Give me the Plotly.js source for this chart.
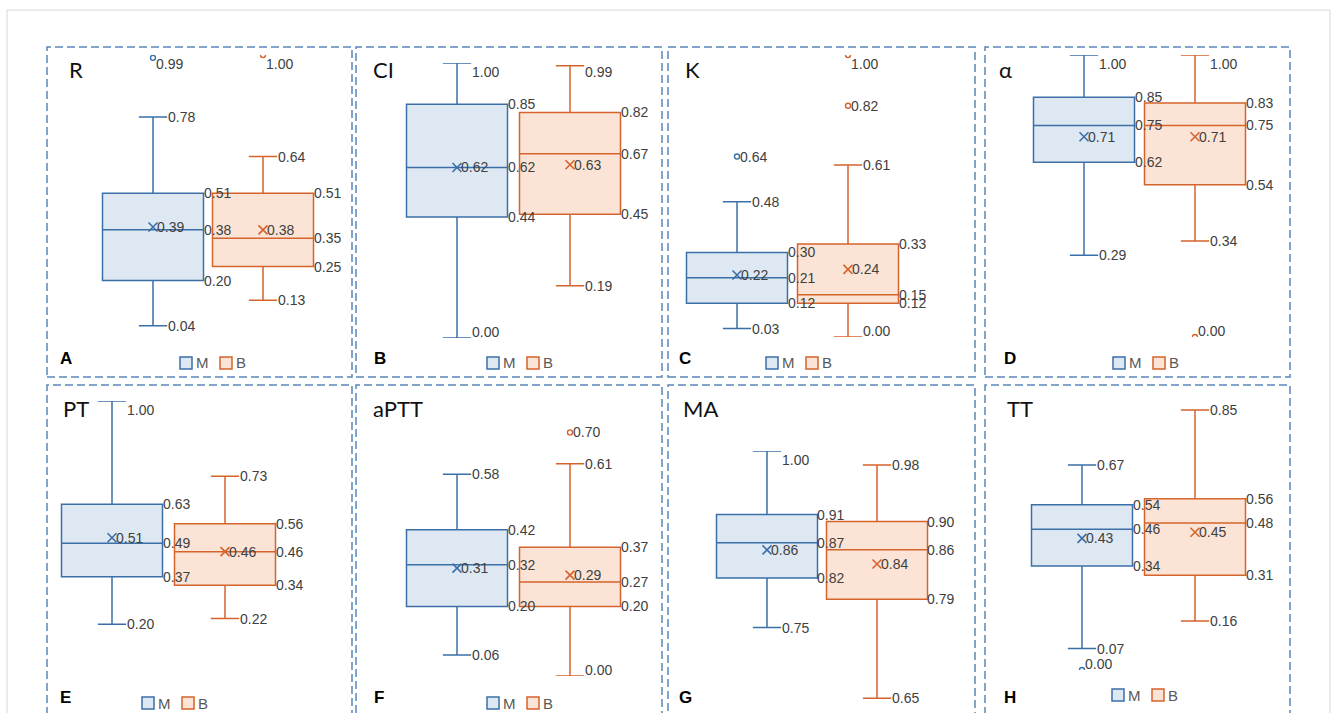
<!DOCTYPE html>
<html>
<head>
<meta charset="utf-8">
<script src="https://cdn.plot.ly/plotly-3.0.1.min.js"></script>
<style>
  html, body { margin: 0; padding: 0; background: #ffffff; }
  #chart { width: 1331px; height: 713px; }
</style>
</head>
<body>
<div id="chart"></div>
<script>
// Normalised coagulation / TEG parameters compared between groups M and B.
const groups = ['M', 'B'];
const panelLetters = ['A', 'B', 'C', 'D', 'E', 'F', 'G', 'H'];
const panelNames = ['R', 'CI', 'K', 'α', 'PT', 'aPTT', 'MA', 'TT'];

// Group M summaries, one entry per panel
const lowerM   = [0.04, 0.00, 0.03, 0.29, 0.20, 0.06, 0.75, 0.07];
const q1M      = [0.20, 0.44, 0.12, 0.62, 0.37, 0.20, 0.82, 0.34];
const medianM  = [0.38, 0.62, 0.21, 0.75, 0.49, 0.32, 0.87, 0.46];
const q3M      = [0.51, 0.85, 0.30, 0.85, 0.63, 0.42, 0.91, 0.54];
const upperM   = [0.78, 1.00, 0.48, 1.00, 1.00, 0.58, 1.00, 0.67];
const meanM    = [0.39, 0.62, 0.22, 0.71, 0.51, 0.31, 0.86, 0.43];
const outliersM = [[0.99], [], [0.64], [], [], [], [], [0.00]];

// Group B summaries, one entry per panel
const lowerB   = [0.13, 0.19, 0.00, 0.34, 0.22, 0.00, 0.65, 0.16];
const q1B      = [0.25, 0.45, 0.12, 0.54, 0.34, 0.20, 0.79, 0.31];
const medianB  = [0.35, 0.67, 0.15, 0.75, 0.46, 0.27, 0.86, 0.48];
const q3B      = [0.51, 0.82, 0.33, 0.83, 0.56, 0.37, 0.90, 0.56];
const upperB   = [0.64, 0.99, 0.61, 1.00, 0.73, 0.61, 0.98, 0.85];
const meanB    = [0.38, 0.63, 0.24, 0.71, 0.46, 0.29, 0.84, 0.45];
const outliersB = [[1.00], [], [0.82, 1.00], [0.00], [], [0.70], [], []];

const stats = {
  M: { lower: lowerM, q1: q1M, median: medianM, q3: q3M, upper: upperM, mean: meanM, outliers: outliersM },
  B: { lower: lowerB, q1: q1B, median: medianB, q3: q3B, upper: upperB, mean: meanB, outliers: outliersB }
};

// ---- page geometry (pixels) ----
const W = 1331, H = 713;
const fx = px => px / W;
const fy = py => 1 - py / H;

// frame: dashed panel border; area: top/bottom of plotting area; cM: centre of first box;
// step: distance between box centres; legend: left edge of first swatch
const panels = [
  { frame: [47, 47, 352, 377],   area: [55, 337],     range: [0, 1],     cM: 153,  step: 110, title: [67, 70],   letter: [58, 358],   legend: [180, 363] },
  { frame: [356, 47, 662, 377],  area: [63, 338],     range: [0, 1],     cM: 457,  step: 113, title: [371, 70],  letter: [372, 358],  legend: [487, 363] },
  { frame: [668, 47, 975, 377],  area: [55, 337],     range: [0, 1],     cM: 737,  step: 111, title: [683, 70],  letter: [677, 358],  legend: [766, 363] },
  { frame: [985, 47, 1290, 377], area: [55, 337],     range: [0, 1],     cM: 1084, step: 111, title: [997, 70],  letter: [1002, 358], legend: [1113, 363] },
  { frame: [47, 385, 352, 725],  area: [401, 680],    range: [0, 1],     cM: 112,  step: 113, title: [61, 408],  letter: [58, 697],   legend: [142, 703] },
  { frame: [356, 385, 662, 725], area: [397.6, 676],  range: [0, 0.8],   cM: 457,  step: 113, title: [371, 408], letter: [372, 697],  legend: [487, 703] },
  { frame: [668, 385, 975, 725], area: [451, 713],    range: [0.629, 1], cM: 767,  step: 110, title: [681, 408], letter: [677, 697],  legend: null },
  { frame: [985, 385, 1290, 725],area: [394.6, 670],  range: [0, 0.9],   cM: 1082, step: 113, title: [1005, 408],letter: [1002, 697], legend: [1112, 695] }
];

const palette = {
  M: { line: '#3B6FA8', fill: '#DEE8F3' },
  B: { line: '#D5632C', fill: '#FBE4D5' }
};

const BOX_PX = 101;
const WHISKER_FRAC = 0.28;
const labelFont = { family: 'Liberation Sans, Arial, sans-serif', size: 14, color: '#404040' };

const traces = [];
const annotations = [];
const shapes = [];
const layout = {
  width: W, height: H,
  margin: { l: 0, r: 0, t: 0, b: 0 },
  paper_bgcolor: '#ffffff',
  plot_bgcolor: 'rgba(0,0,0,0)',
  showlegend: false,
  boxmode: 'overlay',
  annotations: annotations,
  shapes: shapes
};

// outer light frame
shapes.push({ type: 'rect', xref: 'paper', yref: 'paper', x0: fx(7), x1: fx(1330), y0: fy(10), y1: fy(740),
  line: { color: '#D6D6D6', width: 1 }, fillcolor: 'rgba(0,0,0,0)', layer: 'below' });

panels.forEach((p, i) => {
  const n = i + 1;
  const sfx = n === 1 ? '' : String(n);
  const xa = 'x' + sfx, ya = 'y' + sfx;
  const left = p.cM - p.step / 2;
  const right = p.cM + p.step * 1.5;

  layout['xaxis' + sfx] = {
    domain: [fx(left), fx(right)], anchor: ya,
    type: 'category', categoryorder: 'array', categoryarray: groups,
    range: [-0.5, 1.5], visible: false, fixedrange: true
  };
  layout['yaxis' + sfx] = {
    domain: [fy(p.area[1]), fy(p.area[0])], anchor: xa,
    range: p.range, visible: false, fixedrange: true
  };

  // pixel position of a value inside this panel, used to keep labels inside the area
  const toPx = v => p.area[0] + (p.range[1] - v) / (p.range[1] - p.range[0]) * (p.area[1] - p.area[0]);
  const addLabel = (gi, v, dx) => {
    const py = toPx(v);
    let dy = 0;
    if (py < p.area[0] + 9) dy = -(p.area[0] + 9 - py);
    if (py > p.area[1] - 6) dy = py - (p.area[1] - 6);
    annotations.push({
      xref: xa, yref: ya, x: gi, y: v, text: v.toFixed(2), showarrow: false,
      xanchor: 'left', yanchor: 'middle', xshift: dx, yshift: dy, font: labelFont
    });
  };

  const boxW = BOX_PX / p.step;
  const capHalf = BOX_PX * WHISKER_FRAC / 2;

  groups.forEach((g, gi) => {
    const s = stats[g];
    const c = palette[g];
    traces.push({
      type: 'box', name: g, xaxis: xa, yaxis: ya,
      x: [g],
      lowerfence: [s.lower[i]], q1: [s.q1[i]], median: [s.median[i]],
      q3: [s.q3[i]], upperfence: [s.upper[i]],
      width: boxW, whiskerwidth: WHISKER_FRAC,
      boxpoints: false,
      line: { color: c.line, width: 1.5 }, fillcolor: c.fill,
      hoverinfo: 'skip'
    });
    traces.push({
      type: 'scatter', mode: 'markers', name: g + ' mean', xaxis: xa, yaxis: ya,
      x: [g], y: [s.mean[i]], cliponaxis: false,
      marker: { symbol: 'x-thin-open', size: 9, color: c.line, line: { color: c.line, width: 1.6 } },
      hoverinfo: 'skip'
    });
    if (s.outliers[i].length) {
      traces.push({
        type: 'scatter', mode: 'markers', name: g + ' outliers', xaxis: xa, yaxis: ya,
        x: s.outliers[i].map(() => g), y: s.outliers[i], cliponaxis: true,
        marker: { symbol: 'circle-open', size: 5, color: c.line, line: { color: c.line, width: 1.4 } },
        hoverinfo: 'skip'
      });
    }

    // value labels
    addLabel(gi, s.upper[i], capHalf - 1);
    addLabel(gi, s.lower[i], capHalf - 1);
    addLabel(gi, s.q3[i], BOX_PX / 2 - 2);
    addLabel(gi, s.median[i], BOX_PX / 2 - 2);
    addLabel(gi, s.q1[i], BOX_PX / 2 - 2);
    addLabel(gi, s.mean[i], 2);
    s.outliers[i].forEach(v => addLabel(gi, v, 1));
  });

  // dashed panel border
  shapes.push({
    type: 'rect', xref: 'paper', yref: 'paper',
    x0: fx(p.frame[0]), x1: fx(p.frame[2]), y0: fy(p.frame[3]), y1: fy(p.frame[1]),
    line: { color: '#5A86BB', width: 1.5, dash: '8px,4px' }, fillcolor: 'rgba(0,0,0,0)'
  });

  // parameter name
  annotations.push({
    xref: 'paper', yref: 'paper', x: fx(p.title[0]), y: fy(p.title[1]),
    xanchor: 'left', yanchor: 'middle', showarrow: false, text: panelNames[i],
    font: { family: 'Lato, Open Sans, sans-serif', size: 22, color: '#111111' }
  });
  // panel letter
  annotations.push({
    xref: 'paper', yref: 'paper', x: fx(p.letter[0]), y: fy(p.letter[1]),
    xanchor: 'left', yanchor: 'middle', showarrow: false, text: '<b>' + panelLetters[i] + '</b>',
    font: { family: 'Liberation Sans, Arial, sans-serif', size: 17, color: '#000000' }
  });

  // group key
  if (p.legend) {
    groups.forEach((g, gi) => {
      const x0 = p.legend[0] + gi * 40;
      const yc = p.legend[1];
      shapes.push({
        type: 'rect', xref: 'paper', yref: 'paper',
        x0: fx(x0), x1: fx(x0 + 12), y0: fy(yc + 6), y1: fy(yc - 6),
        line: { color: palette[g].line, width: 1.5 }, fillcolor: palette[g].fill
      });
      annotations.push({
        xref: 'paper', yref: 'paper', x: fx(x0 + 14), y: fy(yc),
        xanchor: 'left', yanchor: 'middle', showarrow: false, text: g,
        font: { family: 'Liberation Sans, Arial, sans-serif', size: 15, color: '#595959' }
      });
    });
  }
});

Plotly.newPlot('chart', traces, layout, { staticPlot: true, displayModeBar: false });
</script>
</body>
</html>
